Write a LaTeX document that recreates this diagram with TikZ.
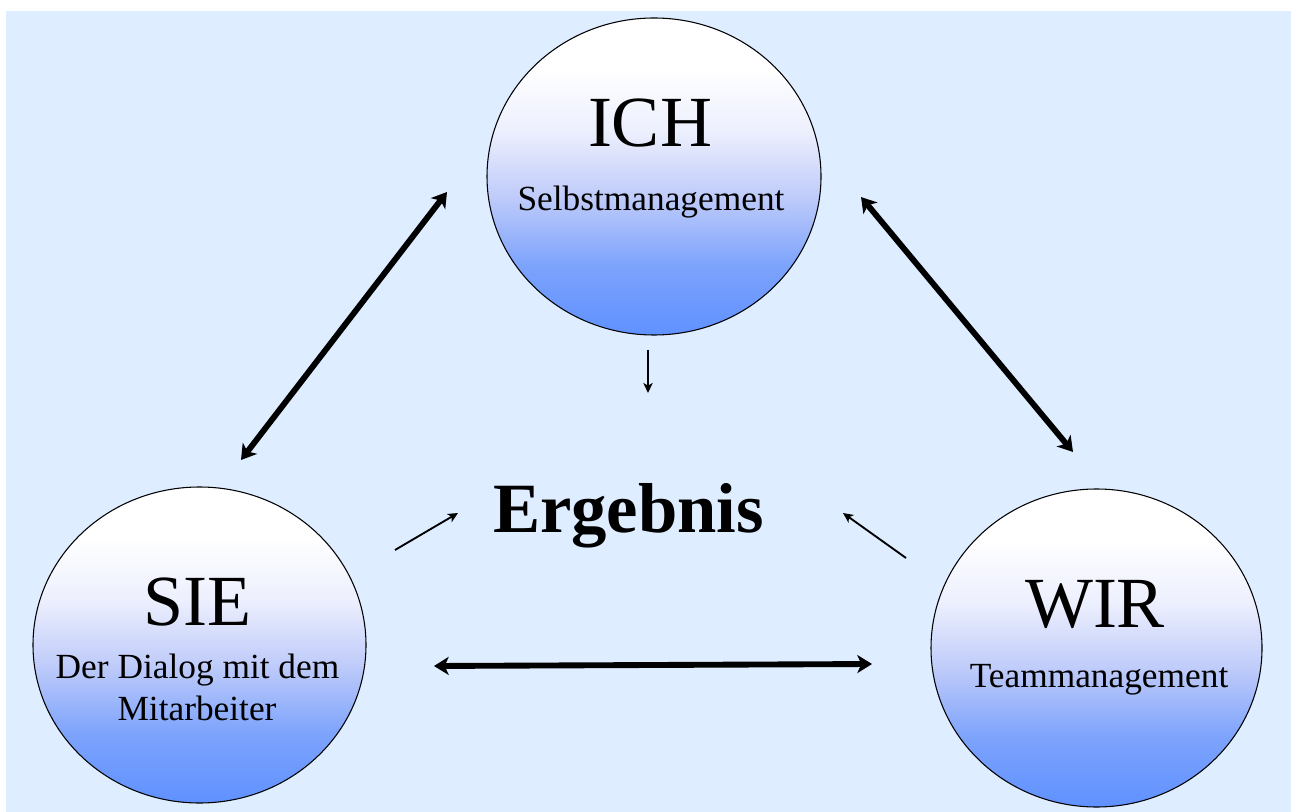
\documentclass[tikz,border=0pt]{standalone}
\usepackage{fontspec}
\setmainfont{Liberation Serif}
\usetikzlibrary{shapes.geometric,arrows.meta}
\definecolor{bgblue}{RGB}{222,237,255}
\definecolor{sh0}{RGB}{95,145,255}
\definecolor{sh1}{RGB}{125,163,252}
\definecolor{sh2}{RGB}{192,204,250}
\definecolor{sh3}{RGB}{236,239,253}
\pgfdeclareverticalshading{ballshade}{100bp}{color(0bp)=(sh0); color(25bp)=(sh0); color(36bp)=(sh1); color(47bp)=(sh2); color(57bp)=(sh3); color(67bp)=(white); color(100bp)=(white)}
\tikzset{
  ball/.style={ellipse, draw=black, line width=0.8pt, shading=ballshade, inner sep=0pt},
  bigtext/.style={anchor=base, inner sep=0pt, font=\fontsize{54}{60}\selectfont},
  subtext/.style={anchor=base, inner sep=0pt, font=\fontsize{26.5}{31.5}\selectfont},
  bigarrow/.style={line width=4.4pt, {Stealth[length=11pt,width=13.5pt,inset=3pt]}-{Stealth[length=11pt,width=13.5pt,inset=3pt]}},
  smallarrow/.style={line width=1.4pt, -{Stealth[length=7.5pt,width=7pt,inset=2pt]}}
}
\begin{document}
\begin{tikzpicture}[x=0.75pt,y=-0.75pt]
\useasboundingbox (0,0) rectangle (1291,812);
\fill[bgblue] (6,11) rectangle (1291,812);
% circles
\node[ball, minimum width=250.5pt, minimum height=237.75pt] (ich) at (654,176.5) {};
\node[ball, minimum width=249.75pt, minimum height=237pt] (sie) at (199.5,645) {};
\node[ball, minimum width=248.25pt, minimum height=238.5pt] (wir) at (1096.5,648) {};
% texts
\node[bigtext] (ichT) at (650,147) {ICH};
\node[subtext] (ichS) at (651,211) {Selbstmanagement};
\node[bigtext] (sieT) at (197,625) {SIE};
\node[subtext] (sieS1) at (197.5,678) {Der Dialog mit dem};
\node[subtext] (sieS2) at (197,720) {Mitarbeiter};
\node[bigtext] (wirT) at (1095,627) {WIR};
\node[subtext] (wirS) at (1099,687) {Teammanagement};
\node[anchor=base, inner sep=0pt, font=\fontsize{53}{60}\selectfont\bfseries] (erg) at (628.5,532) {Ergebnis};
% arrow end points
\coordinate (l1) at (241,460);
\coordinate (l2) at (447,192);
\coordinate (r1) at (861,197);
\coordinate (r2) at (1073,452);
\coordinate (h1) at (434,666);
\coordinate (h2) at (872,664);
\coordinate (d1) at (648,350);
\coordinate (d2) at (648,393);
\coordinate (sl1) at (395,550);
\coordinate (sl2) at (458,513);
\coordinate (sr1) at (906,558);
\coordinate (sr2) at (843,513);
\draw[bigarrow] (l1) -- (l2);
\draw[bigarrow] (r1) -- (r2);
\draw[bigarrow] (h1) -- (h2);
\draw[smallarrow] (d1) -- (d2);
\draw[smallarrow] (sl1) -- (sl2);
\draw[smallarrow] (sr1) -- (sr2);
\end{tikzpicture}
\end{document}
